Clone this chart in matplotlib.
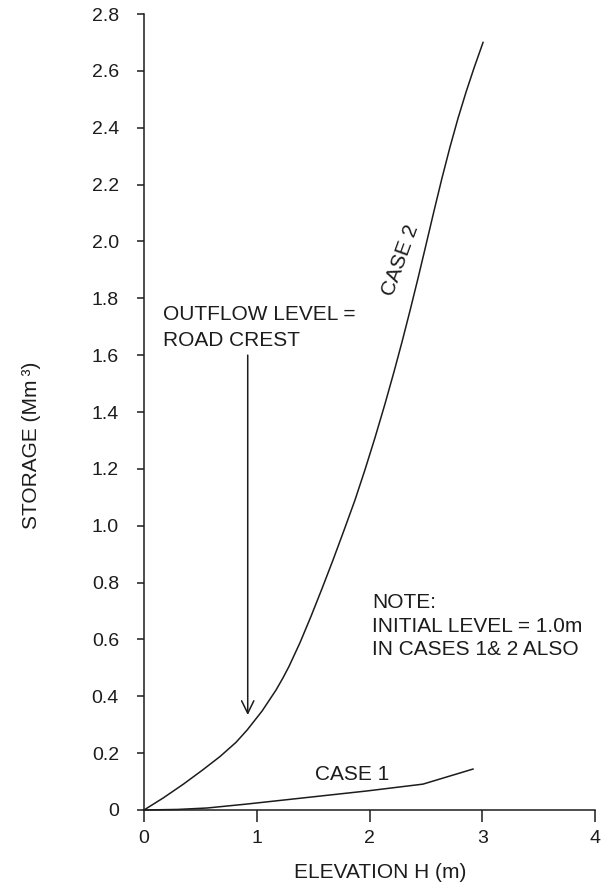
import matplotlib
matplotlib.use("Agg")
import matplotlib.pyplot as plt

plt.rcParams['font.family'] = ['Liberation Sans', 'DejaVu Sans']

# Storage curves: elevation H (m) vs storage (Mm^3)
case2_h = [0.0, 0.169, 0.346, 0.514, 0.674, 0.816, 0.914, 1.047, 1.171, 1.233,
           1.286, 1.384, 1.481, 1.579, 1.676, 1.774, 1.871, 1.960, 2.049, 2.137,
           2.217, 2.288, 2.359, 2.430, 2.501, 2.572, 2.643, 2.714, 2.785, 2.856,
           2.927, 3.007]
case2_s = [0.0, 0.042, 0.090, 0.139, 0.188, 0.238, 0.281, 0.348, 0.422, 0.465,
           0.505, 0.589, 0.681, 0.779, 0.879, 0.984, 1.090, 1.197, 1.310, 1.428,
           1.541, 1.646, 1.756, 1.870, 1.988, 2.107, 2.223, 2.332, 2.433, 2.525,
           2.610, 2.700]

case1_h = [0.0, 0.30, 0.559, 0.914, 1.978, 2.474, 2.918]
case1_s = [0.0, 0.002, 0.007, 0.021, 0.067, 0.091, 0.144]

x_ticks = [0, 1, 2, 3, 4]
x_tick_labels = ["0", "1", "2", "3", "4"]
y_ticks = [0, 0.2, 0.4, 0.6, 0.8, 1.0, 1.2, 1.4, 1.6, 1.8, 2.0, 2.2, 2.4, 2.6, 2.8]
y_tick_labels = ["0", "0.2", "0.4", "0.6", "0.8", "1.0", "1.2", "1.4", "1.6",
                 "1.8", "2.0", "2.2", "2.4", "2.6", "2.8"]

outflow_h = 0.92      # outflow level marker
outflow_s_tip = 0.334
outflow_s_tail = 1.60

ink = "#1c1c1c"
W, H = 611, 890
fig = plt.figure(figsize=(W / 100, H / 100), dpi=100)
ax = fig.add_axes([144 / W, 1 - 810 / H, (595 - 144) / W, (810 - 14) / H])

ax.plot(case2_h, case2_s, color=ink, lw=1.1, clip_on=False)
ax.plot(case1_h, case1_s, color=ink, lw=1.1, clip_on=False)

ax.set_xlim(0, 4)
ax.set_ylim(0, 2.8)
ax.set_xticks(x_ticks)
ax.set_xticklabels(x_tick_labels)
ax.set_yticks(y_ticks)
ax.set_yticklabels(y_tick_labels)

for side in ("top", "right"):
    ax.spines[side].set_visible(False)
for side in ("left", "bottom"):
    ax.spines[side].set_color(ink)
    ax.spines[side].set_linewidth(1.1)

ax.tick_params(axis="x", direction="out", length=8.6, width=1.1, color=ink,
               labelsize=14, labelcolor=ink, pad=6)
ax.tick_params(axis="y", direction="out", length=5, width=1.1, color=ink,
               labelsize=14, labelcolor=ink, pad=13)

ax.set_xlabel("ELEVATION H (m)", fontsize=15, color=ink)
ax.xaxis.label.set_va("center")
ax.xaxis.set_label_coords((380 - 144) / 451, (810 - 873) / 796)
ax.set_ylabel("STORAGE (Mm\u2009³)", fontsize=15, color=ink)
ax.yaxis.label.set_va("center")
ax.yaxis.set_label_coords((32 - 144) / 451, (810 - 445) / 796)


def dx(px):
    return (px - 144) / 112.75


def dy(py):
    return (810 - py) / 284.3


txt = dict(fontsize=15, color=ink, ha="left", va="baseline")
ax.text(dx(163), dy(320), "OUTFLOW LEVEL =", **txt)
ax.text(dx(163), dy(346), "ROAD CREST", **txt)

ax.annotate("", xy=(outflow_h, outflow_s_tip), xytext=(outflow_h, outflow_s_tail),
            arrowprops=dict(arrowstyle="->,head_length=0.45,head_width=0.22",
                            color=ink, lw=1.1, mutation_scale=20,
                            shrinkA=0, shrinkB=0))

ax.text(dx(372), dy(608), "NOTE:", **txt)
ax.text(dx(372), dy(632), "INITIAL LEVEL = 1.0m", **txt)
ax.text(dx(372), dy(655), "IN CASES 1& 2 ALSO", **txt)

ax.text(dx(315), dy(780), "CASE 1", **txt)
ax.text(dx(401), dy(260), "CASE 2", fontsize=15, color=ink, ha="center",
        va="center", rotation=70, rotation_mode="anchor")

fig.savefig("out.png", dpi=100, facecolor="white")
